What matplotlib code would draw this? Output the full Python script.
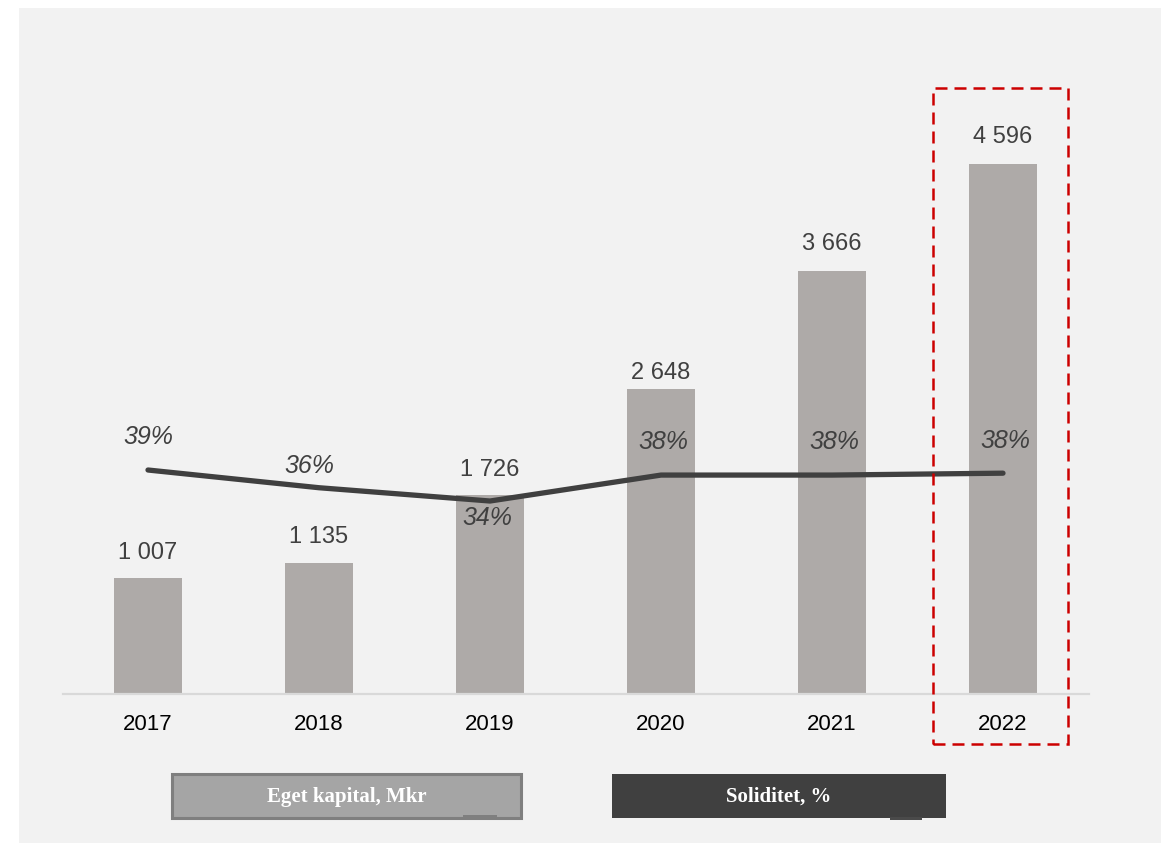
import matplotlib
matplotlib.use("Agg")
import matplotlib.pyplot as plt
from matplotlib.patches import Rectangle

# ---- data ----
years = ["2017", "2018", "2019", "2020", "2021", "2022"]
equity = [1007, 1135, 1726, 2648, 3666, 4596]          # Eget kapital, Mkr
solidity = [38.9, 36.1, 34.0, 38.1, 38.1, 38.4]         # Soliditet, %
solidity_labels = ["39%", "36%", "34%", "38%", "38%", "38%"]
legend_labels = ["Eget kapital, Mkr", "Soliditet, %"]

W, H = 1170, 843
fig = plt.figure(figsize=(W / 100, H / 100), dpi=100)
fig.patch.set_facecolor("white")

def fx(px):
    return px / W

def fy(py):
    return (H - py) / H

# background panel
fig.patches.append(Rectangle((fx(19), fy(843)), fx(1161) - fx(19), fy(8) - fy(843),
                             transform=fig.transFigure, facecolor="#f2f2f2",
                             edgecolor="none", zorder=-10))

ax = fig.add_axes([fx(62.5), fy(694), fx(1088.5) - fx(62.5), fy(60) - fy(694)])
ax.set_facecolor("none")
ax.set_zorder(1)
ax.set_xlim(-0.5, 5.5)
ax.set_ylim(0, 5501)

x = list(range(len(years)))
bar_color = "#aeaaa8"
ax.bar(x, equity, width=0.4, color=bar_color, zorder=2)

bar_label_offsets = [25, 26, 25, 16, 27, 27]
for xi, v, oy in zip(x, equity, bar_label_offsets):
    ax.annotate(f"{v:,}".replace(",", " "), (xi, v), xytext=(0, oy),
                textcoords="offset pixels", ha="center", va="center",
                fontsize=17, color="#404040", family="Liberation Sans", zorder=5)

for s in ["top", "right", "left"]:
    ax.spines[s].set_visible(False)
ax.spines["bottom"].set_color("#d9d9d9")
ax.spines["bottom"].set_linewidth(1.6)
ax.set_yticks([])
ax.set_xticks(x)
ax.set_xticklabels(years, fontsize=16, family="Liberation Sans", color="black")
ax.tick_params(axis="x", length=0, pad=14.5)

ax2 = ax.twinx()
ax2.set_zorder(2)
ax2.set_facecolor("none")
ax2.set_ylim(3.5, 103.7)
ax2.set_yticks([])
for s in ["top", "right", "left", "bottom"]:
    ax2.spines[s].set_visible(False)
ax2.plot(x, solidity, color="#404040", lw=3.8, solid_capstyle="round",
         solid_joinstyle="round", zorder=3)

offsets = [(0, 33), (-10, 22), (-3, -17), (2, 33), (2, 33), (2, 32)]
for xi, v, lab, (ox, oy) in zip(x, solidity, solidity_labels, offsets):
    ax2.annotate(lab, (xi, v), xytext=(ox, oy), textcoords="offset pixels",
                 ha="center", va="center", fontsize=18, style="italic",
                 color="#404040", family="Liberation Sans", zorder=5)

# red dashed highlight box around 2022
px_per_unit = 1026 / 6
data_per_px = 5501 / 634
rect = Rectangle((5 - 70 / px_per_unit, -50 * data_per_px),
                 135 / px_per_unit, 656 * data_per_px,
                 fill=False, edgecolor="#cc0000", lw=1.8,
                 linestyle=(0, (4.8, 2.8)), clip_on=False, zorder=6)
ax2.add_patch(rect)
rect.set_transform(ax.transData)

# legend boxes
fig.patches.append(Rectangle((fx(172), fy(818)), fx(521) - fx(172), fy(774) - fy(818),
                             transform=fig.transFigure, facecolor="#a5a5a5",
                             edgecolor="#7f7f7f", lw=2.2, zorder=2))
fig.patches.append(Rectangle((fx(463), fy(819)), fx(497) - fx(463), fy(815) - fy(819),
                             transform=fig.transFigure, facecolor="#7f7f7f",
                             edgecolor="none", zorder=3))
fig.patches.append(Rectangle((fx(612), fy(818)), fx(946) - fx(612), fy(774) - fy(818),
                             transform=fig.transFigure, facecolor="#404040",
                             edgecolor="none", zorder=2))
fig.patches.append(Rectangle((fx(890), fy(820)), fx(922) - fx(890), fy(817) - fy(820),
                             transform=fig.transFigure, facecolor="#4a4a4a",
                             edgecolor="none", zorder=3))
fig.text(fx(347), fy(797), legend_labels[0], ha="center", va="center",
         color="white", fontsize=15, fontweight="bold", family="Liberation Serif")
fig.text(fx(779), fy(797), legend_labels[1], ha="center", va="center",
         color="white", fontsize=15, fontweight="bold", family="Liberation Serif")

fig.savefig("out.png", dpi=100, facecolor=fig.get_facecolor())
